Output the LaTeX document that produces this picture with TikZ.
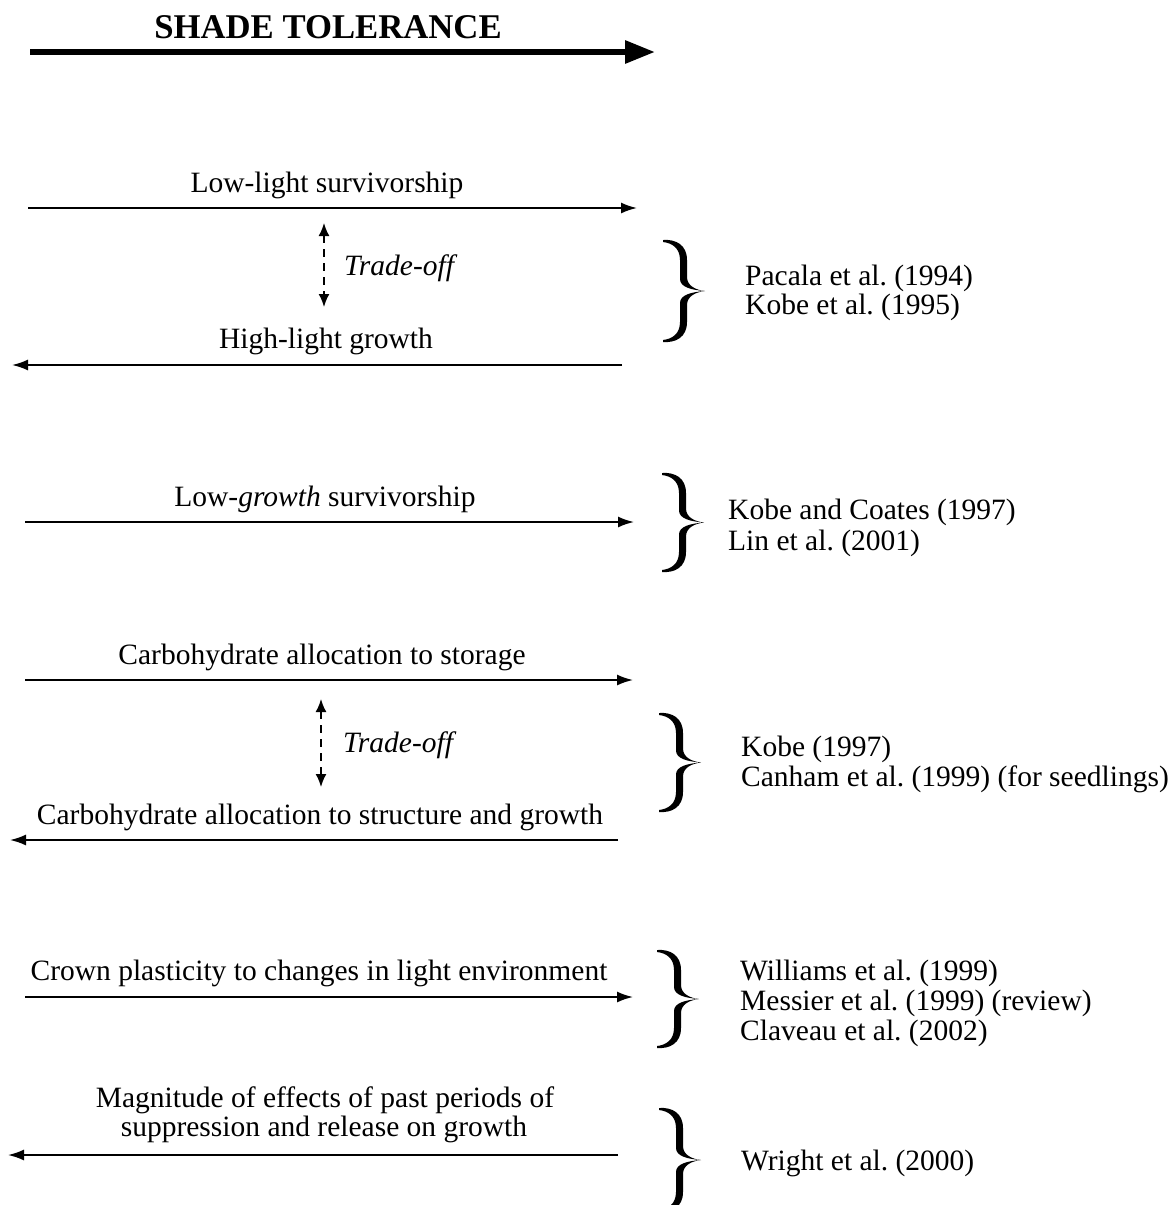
\documentclass[tikz,border=0pt]{standalone}
\usepackage{fontspec}
\setmainfont{Liberation Serif}
\usetikzlibrary{arrows.meta}
\newcommand{\curlybrace}[3]{%
  \pgfmathsetmacro\bm{#3/2}\pgfmathsetmacro\bh{#3}%
  \fill[shift={(#1,#2)}] (0,0) .. controls (13,-1) and (24,5) .. (24,20)
    -- (24,{\bm-14}) .. controls (24,{\bm-5}) and (33,{\bm-1}) .. (42,\bm)
    .. controls (33,{\bm+1}) and (24,{\bm+5}) .. (24,{\bm+14})
    -- (24,{\bh-20}) .. controls (24,{\bh-5}) and (13,{\bh+1}) .. (0,\bh)
    -- (0,{\bh-2}) .. controls (9,{\bh-3}) and (17,{\bh-8}) .. (17,{\bh-20})
    -- (17,{\bm+12}) .. controls (17,{\bm+4}) and (28,{\bm+1}) .. (42,\bm)
    .. controls (28,{\bm-1}) and (17,{\bm-4}) .. (17,{\bm-12})
    -- (17,20) .. controls (17,8) and (9,3) .. (0,2) -- cycle;}
\begin{document}
\frenchspacing
\begin{tikzpicture}[x=1pt,y=-1pt,
  lbl/.style={anchor=mid,inner sep=0pt,font=\fontsize{29.5}{31}\selectfont},
  ref/.style={anchor=mid west,inner sep=0pt,font=\fontsize{29.5}{31}\selectfont},
  tradeoff/.style={anchor=mid west,inner sep=0pt,font=\fontsize{29.5}{31}\selectfont\itshape},
  harrow/.style={line width=1.8pt,-{Latex[length=16pt,width=11pt]}},
  toarrow/.style={line width=1.8pt,dash pattern=on 8pt off 6pt,{Latex[length=13pt,width=11pt]}-{Latex[length=13pt,width=11pt]}}
]
\useasboundingbox (0,0) rectangle (1174,1205);
% title
\node[font=\fontsize{34.7}{36}\selectfont\bfseries,anchor=mid,inner sep=0pt] (title) at (328,36) {SHADE TOLERANCE};
\coordinate (ts) at (30,52); \coordinate (te) at (655,52);
\draw[line width=6pt,-{Triangle[length=30pt,width=22pt]}] (ts) -- (te);
% section 1
\node[lbl] (l1) at (327,190) {Low-light survivorship};
\coordinate (a1s) at (28,208); \coordinate (a1e) at (637,208);
\draw[harrow] (a1s) -- (a1e);
\coordinate (d1t) at (324,223); \coordinate (d1b) at (324,307);
\draw[toarrow] (d1t) -- (d1b);
\node[tradeoff] (t1) at (344,273) {Trade-off};
\node[lbl] (l2) at (326,346) {High-light growth};
\coordinate (a2s) at (622,365); \coordinate (a2e) at (12,365);
\draw[harrow] (a2s) -- (a2e);
\curlybrace{663}{240}{102}
\node[ref] (r1) at (745,283) {Pacala et al. (1994)};
\node[ref] (r2) at (745,312) {Kobe et al. (1995)};
% section 2
\node[lbl] (l3) at (325,504) {Low-\textit{growth} survivorship};
\coordinate (a3s) at (25,522); \coordinate (a3e) at (634,522);
\draw[harrow] (a3s) -- (a3e);
\curlybrace{662}{473}{99}
\node[ref] (r3) at (728,517) {Kobe and Coates (1997)};
\node[ref] (r4) at (728,548) {Lin et al. (2001)};
% section 3
\node[lbl] (l4) at (322,662) {Carbohydrate allocation to storage};
\coordinate (a4s) at (25,680); \coordinate (a4e) at (633,680);
\draw[harrow] (a4s) -- (a4e);
\coordinate (d2t) at (321,699); \coordinate (d2b) at (321,787);
\draw[toarrow] (d2t) -- (d2b);
\node[tradeoff] (t2) at (343,750) {Trade-off};
\node[lbl] (l5) at (320,822) {Carbohydrate allocation to structure and growth};
\coordinate (a5s) at (618,840); \coordinate (a5e) at (10,840);
\draw[harrow] (a5s) -- (a5e);
\curlybrace{659}{713}{99}
\node[ref] (r5) at (741,754) {Kobe (1997)};
\node[ref] (r6) at (741,784) {Canham et al. (1999) (for seedlings)};
% section 4
\node[lbl] (l6) at (319,978) {Crown plasticity to changes in light environment};
\coordinate (a6s) at (25,997); \coordinate (a6e) at (633,997);
\draw[harrow] (a6s) -- (a6e);
\curlybrace{657}{950}{98}
\node[ref] (r7) at (740,978) {Williams et al. (1999)};
\node[ref] (r8) at (740,1008) {Messier et al. (1999) (review)};
\node[ref] (r9) at (740,1038) {Claveau et al. (2002)};
% section 5
\node[lbl] (l7) at (325,1105) {Magnitude of effects of past periods of};
\node[lbl] (l8) at (324,1134) {suppression and release on growth};
\coordinate (a7s) at (618,1155); \coordinate (a7e) at (8,1155);
\draw[harrow] (a7s) -- (a7e);
\curlybrace{659}{1108}{104}
\node[ref] (r10) at (741,1168) {Wright et al. (2000)};
\end{tikzpicture}
\end{document}
